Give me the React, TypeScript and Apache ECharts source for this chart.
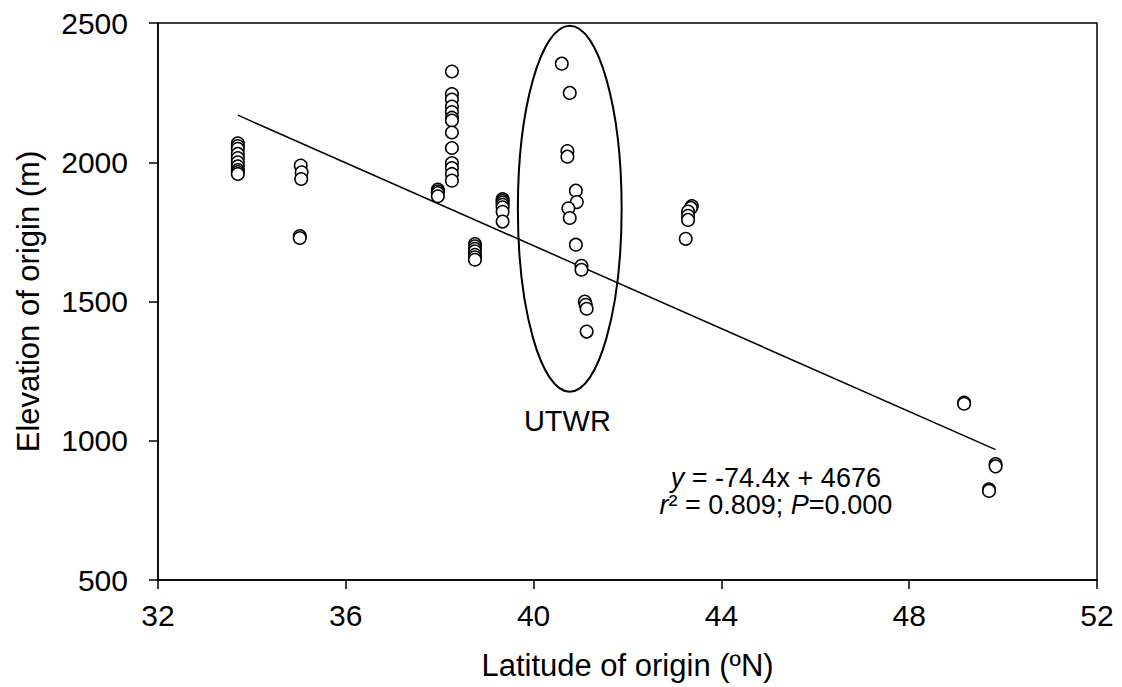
import React, { useEffect, useRef } from "react";
import * as echarts from "echarts";

// Observations: [latitude (ºN), elevation (m)]
const cluster1: number[][] = [
  [33.7, 2068], [33.7, 2058], [33.7, 2048], [33.7, 2030], [33.7, 2015],
  [33.7, 2000], [33.7, 1985], [33.7, 1972], [33.7, 1965], [33.7, 1958],
];
const cluster2: number[][] = [
  [35.04, 1988], [35.06, 1964], [35.05, 1940], [35.02, 1735], [35.02, 1728],
];
const cluster3: number[][] = [
  [38.26, 2326], [38.26, 2245], [38.26, 2225], [38.26, 2200], [38.26, 2180],
  [38.26, 2160], [38.26, 2150], [38.26, 2107], [38.26, 2051], [38.26, 1997],
  [38.26, 1979], [38.26, 1958], [38.26, 1934],
];
const cluster4: number[][] = [
  [37.96, 1902], [37.96, 1896], [37.96, 1889], [37.96, 1878],
];
const cluster5: number[][] = [
  [39.34, 1868], [39.34, 1862], [39.34, 1855], [39.34, 1847], [39.34, 1838],
  [39.34, 1822], [39.34, 1787],
];
const cluster6: number[][] = [
  [38.75, 1706], [38.75, 1698], [38.75, 1689], [38.75, 1680], [38.75, 1668],
  [38.75, 1659], [38.75, 1650],
];
const utwr: number[][] = [
  [40.6, 2354], [40.77, 2249], [40.72, 2040], [40.72, 2020], [40.9, 1898],
  [40.92, 1857], [40.74, 1835], [40.77, 1800], [40.9, 1704], [41.02, 1628],
  [41.02, 1614], [41.09, 1500], [41.11, 1488], [41.13, 1474], [41.13, 1392],
];
const cluster7: number[][] = [
  [43.37, 1843], [43.35, 1836], [43.29, 1823], [43.29, 1808], [43.29, 1793],
  [43.24, 1725],
];
const cluster8: number[][] = [
  [49.17, 1137], [49.17, 1133], [49.84, 916], [49.84, 908], [49.7, 826], [49.7, 820],
];

// Regression line endpoints (y = -74.4x + 4676)
const trendLine: number[][] = [
  [33.7, 2169], [49.84, 968],
];

// UTWR ellipse in data space: center and half-axes
const ellipseCenter = [40.77, 1833];
const ellipseHalf = [1.105, 657];
const utwrLabelPos = [40.72, 1072];
const eqPos1 = [45.16, 868];
const eqPos2 = [45.16, 768];

const xTicks = { min: 32, max: 52, interval: 4 };
const yTicks = { min: 500, max: 2500, interval: 500 };

const FONT = "Liberation Sans, Arial, sans-serif";

export default function App() {
  const ref = useRef<HTMLDivElement>(null);
  useEffect(() => {
    if (!ref.current) return;
    const chart = echarts.init(ref.current, undefined, { renderer: "svg" });
    const points = [
      ...cluster1, ...cluster2, ...cluster3, ...cluster4, ...cluster5,
      ...cluster6, ...utwr, ...cluster7, ...cluster8,
    ];
    chart.setOption({
      animation: false,
      textStyle: { fontFamily: FONT },
      grid: {
        left: 158, right: 25, top: 23, bottom: 107,
        show: true, borderColor: "#000", borderWidth: 1.5,
        backgroundColor: "transparent",
      },
      xAxis: {
        type: "value",
        min: xTicks.min, max: xTicks.max, interval: xTicks.interval,
        name: "Latitude of origin (ºN)",
        nameLocation: "middle",
        nameGap: 70,
        nameTextStyle: { fontSize: 31, color: "#000", fontFamily: FONT },
        axisLine: { show: true, lineStyle: { color: "#000", width: 1.5 } },
        axisTick: { show: true, inside: false, length: 9, lineStyle: { color: "#000", width: 1.5 } },
        axisLabel: { fontSize: 30, color: "#000", margin: 20, fontFamily: FONT },
        splitLine: { show: false },
      },
      yAxis: {
        type: "value",
        min: yTicks.min, max: yTicks.max, interval: yTicks.interval,
        name: "Elevation of origin (m)",
        nameLocation: "middle",
        nameGap: 114,
        nameTextStyle: { fontSize: 31, color: "#000", fontFamily: FONT },
        axisLine: { show: true, lineStyle: { color: "#000", width: 1.5 } },
        axisTick: { show: true, inside: false, length: 9, lineStyle: { color: "#000", width: 1.5 } },
        axisLabel: {
          fontSize: 30, color: "#000", margin: 30, fontFamily: FONT,
          formatter: (v: number) => String(v),
        },
        splitLine: { show: false },
      },
      series: [
        {
          type: "line",
          data: trendLine,
          symbol: "none",
          lineStyle: { color: "#000", width: 1.5 },
          silent: true,
          z: 1,
        },
        {
          type: "scatter",
          data: points,
          symbol: "circle",
          symbolSize: 12.5,
          itemStyle: { color: "#fff", borderColor: "#000", borderWidth: 1.5, opacity: 1 },
          z: 3,
        },
      ],
    });

    const c = chart.convertToPixel({ gridIndex: 0 }, ellipseCenter) as number[];
    const e = chart.convertToPixel({ gridIndex: 0 }, [ellipseCenter[0] + ellipseHalf[0], ellipseCenter[1] + ellipseHalf[1]]) as number[];
    const lbl = chart.convertToPixel({ gridIndex: 0 }, utwrLabelPos) as number[];
    const q1 = chart.convertToPixel({ gridIndex: 0 }, eqPos1) as number[];
    const q2 = chart.convertToPixel({ gridIndex: 0 }, eqPos2) as number[];

    chart.setOption({
      graphic: [
        {
          type: "ellipse",
          shape: { cx: c[0], cy: c[1], rx: Math.abs(e[0] - c[0]), ry: Math.abs(c[1] - e[1]) },
          style: { fill: "none", stroke: "#000", lineWidth: 2 },
          z: 2,
        },
        {
          type: "text",
          x: lbl[0], y: lbl[1],
          style: {
            text: "UTWR", fontSize: 29, fill: "#000", fontFamily: FONT,
            align: "center", verticalAlign: "middle",
          },
        },
        {
          type: "text",
          x: q1[0], y: q1[1],
          style: {
            text: "{i|y} = -74.4x + 4676",
            fontSize: 27, fill: "#000", fontFamily: FONT,
            align: "center", verticalAlign: "middle",
            rich: { i: { fontStyle: "italic", fontSize: 27, fontFamily: FONT } },
          },
        },
        {
          type: "text",
          x: q2[0], y: q2[1],
          style: {
            text: "{i|r}² = 0.809; {i|P}=0.000",
            fontSize: 27, fill: "#000", fontFamily: FONT,
            align: "center", verticalAlign: "middle",
            rich: { i: { fontStyle: "italic", fontSize: 27, fontFamily: FONT } },
          },
        },
      ],
    });

    return () => chart.dispose();
  }, []);
  return (
    <div
      ref={ref}
      style={{ position: "fixed", left: 0, top: 0, width: 1122, height: 687, background: "#fff" }}
    />
  );
}
